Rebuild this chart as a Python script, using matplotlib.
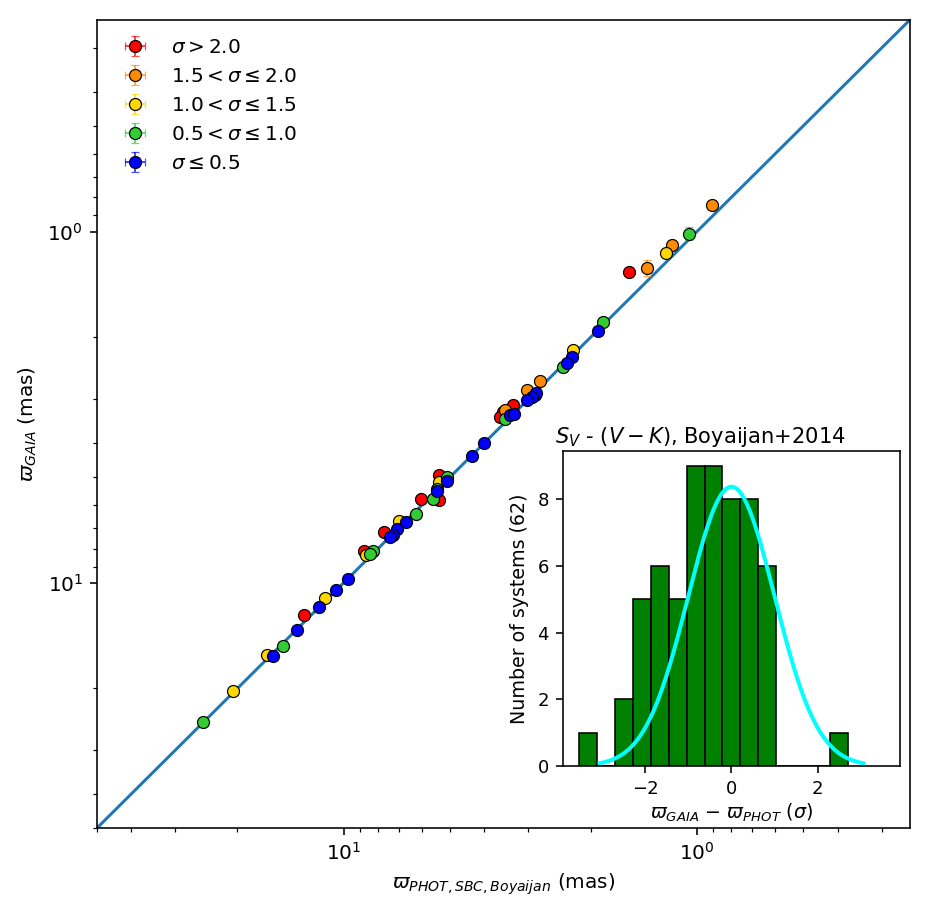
"""
Gaia vs photometric (SBC, Boyajian) parallaxes, with residual histogram inset.
"""

import matplotlib

matplotlib.use("Agg")
import matplotlib.pyplot as plt
import numpy as np
from matplotlib.colors import to_rgba

plt.rcParams.update({"font.size": 10})

# parallaxes in mas, grouped by |Gaia - phot| / sigma
phot_red = [1.556, 3.323, 3.532, 3.608, 5.39, 5.39, 6.045, 7.709, 8.78, 12.97]
gaia_red = [1.303, 3.121, 3.262, 3.371, 4.943, 5.799, 5.775, 7.173, 8.127, 12.33]
phot_red_err = [0.02, 0.04, 0.04, 0.04, 0.06, 0.06, 0.07, 0.09, 0.10, 0.15]
gaia_red_err = [0.02, 0.04, 0.04, 0.04, 0.06, 0.07, 0.07, 0.08, 0.10, 0.15]

phot_orange = [0.905, 1.174, 1.384, 2.782, 3.021, 3.493]
gaia_orange = [0.843, 1.091, 1.272, 2.666, 2.829, 3.226]
phot_orange_err = [0.015, 0.02, 0.02, 0.04, 0.04, 0.04]
gaia_orange_err = [0.02, 0.03, 0.067, 0.04, 0.04, 0.04]

phot_yellow = [1.226, 2.249, 5.39, 6.993, 8.63, 11.30, 16.46, 20.59]
gaia_yellow = [1.152, 2.168, 5.165, 6.688, 8.359, 11.05, 16.02, 20.38]
phot_yellow_err = [0.02, 0.03, 0.06, 0.08, 0.10, 0.13, 0.19, 0.24]
gaia_yellow_err = [0.02, 0.04, 0.07, 0.08, 0.10, 0.13, 0.19, 0.24]

phot_green = [1.053, 1.843, 2.391, 2.874, 3.493, 5.105, 5.447, 5.591, 6.245,
              8.26, 8.406, 14.83, 25.07]
gaia_green = [1.015, 1.810, 2.427, 2.923, 3.429, 4.998, 5.394, 5.761, 6.388,
              8.142, 8.267, 15.20, 24.86]
phot_green_err = [0.015, 0.02, 0.03, 0.03, 0.04, 0.06, 0.06, 0.06, 0.07,
                  0.09, 0.09, 0.17, 0.28]
gaia_green_err = [0.045, 0.03, 0.03, 0.04, 0.04, 0.06, 0.06, 0.07, 0.07,
                  0.09, 0.10, 0.17, 0.28]

phot_blue = [1.904, 2.264, 2.339, 2.855, 2.936, 3.033, 3.382, 3.289, 4.005,
             4.338, 5.105, 5.447, 6.651, 7.067, 7.253, 7.381, 9.73, 10.53,
             11.73, 13.60, 15.87]
gaia_blue = [1.920, 2.273, 2.373, 2.879, 2.955, 3.020, 3.333, 3.311, 3.998,
             4.371, 5.131, 5.480, 6.72, 7.015, 7.297, 7.413, 9.79, 10.52,
             11.71, 13.68, 16.23]
phot_blue_err = [0.02, 0.03, 0.03, 0.03, 0.03, 0.04, 0.04, 0.04, 0.05,
                 0.05, 0.06, 0.06, 0.08, 0.08, 0.08, 0.08, 0.11, 0.12,
                 0.13, 0.15, 0.18]
gaia_blue_err = [0.02, 0.03, 0.03, 0.03, 0.03, 0.04, 0.04, 0.04, 0.05,
                 0.05, 0.06, 0.06, 0.08, 0.08, 0.08, 0.08, 0.11, 0.12,
                 0.13, 0.15, 0.18]

# histogram of (Gaia - phot) / sigma
hist_edges = [-3.53, -3.115, -2.70, -2.284, -1.869, -1.453, -1.038, -0.622,
              -0.207, 0.209, 0.624, 1.04, 1.455, 1.871, 2.286, 2.70]
hist_counts = [1, 0, 2, 5, 6, 5, 9, 9, 8, 8, 6, 0, 0, 0, 1]
gauss_peak = 8.38
gauss_mu = 0.0
gauss_sigma = 1.0
gauss_range = (-3.05, 3.05)

GROUPS = [
    (phot_red, gaia_red, phot_red_err, gaia_red_err, "red", r"$\sigma > 2.0$"),
    (phot_orange, gaia_orange, phot_orange_err, gaia_orange_err, "darkorange",
     r"$1.5 < \sigma \leq 2.0$"),
    (phot_yellow, gaia_yellow, phot_yellow_err, gaia_yellow_err, "gold",
     r"$1.0 < \sigma \leq 1.5$"),
    (phot_green, gaia_green, phot_green_err, gaia_green_err, "limegreen",
     r"$0.5 < \sigma \leq 1.0$"),
    (phot_blue, gaia_blue, phot_blue_err, gaia_blue_err, "blue", r"$\sigma \leq 0.5$"),
]

fig = plt.figure(figsize=(932 / 144, 915 / 144), dpi=144)
ax = fig.add_axes([0.104, 0.095, 0.872, 0.883])

lims = (50, 0.25)
ax.plot(lims, lims, color="#1f77b4", linewidth=1.5, zorder=1)

for phot, gaia, perr, gerr, color, label in GROUPS:
    ax.errorbar(
        phot,
        gaia,
        xerr=perr,
        yerr=gerr,
        fmt="o",
        color=color,
        ecolor=to_rgba(color, 0.7),
        markeredgecolor="black",
        markeredgewidth=0.6,
        markersize=6,
        elinewidth=1,
        capsize=2,
        label=label,
        zorder=2,
    )

ax.set_xscale("log")
ax.set_yscale("log")
ax.set_xlim(lims)
ax.set_ylim(lims)
ax.set_xlabel(r"$\varpi_{PHOT,SBC,Boyaijan}$ (mas)")
ax.set_ylabel(r"$\varpi_{GAIA}$ (mas)")
ax.legend(loc="upper left", frameon=False)

# inset histogram
axi = fig.add_axes([0.604, 0.163, 0.3616, 0.344])
edges = np.array(hist_edges)
axi.bar(edges[:-1], hist_counts, width=np.diff(edges), align="edge",
        color="green", edgecolor="black", linewidth=0.8)
gx = np.linspace(gauss_range[0], gauss_range[1], 200)
axi.plot(gx, gauss_peak * np.exp(-0.5 * ((gx - gauss_mu) / gauss_sigma) ** 2),
         color="cyan", linewidth=2)
axi.set_xlim(-3.9, 3.9)
axi.set_xticks([-2, 0, 2])
axi.set_yticks([0, 2, 4, 6, 8])
axi.tick_params(labelsize=9)
axi.set_title(r"$S_V$ - $(V-K)$, Boyaijan+2014", fontsize=10.5, x=0.407, pad=4)
axi.set_xlabel(r"$\varpi_{GAIA}$ $-$ $\varpi_{PHOT}$ ($\sigma$)", fontsize=9.5, labelpad=2)
axi.set_ylabel("Number of systems (62)", fontsize=9.5)

plt.savefig("out.png", dpi=144)
plt.close()
